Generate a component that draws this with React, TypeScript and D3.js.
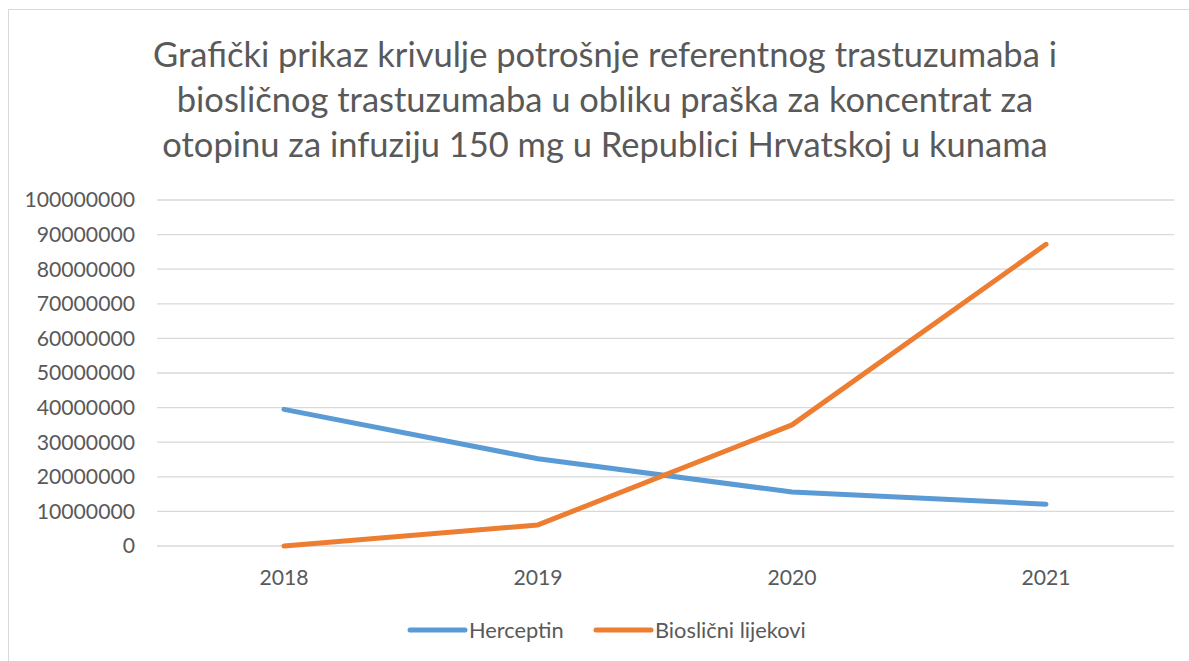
import * as d3 from "d3";
import { useEffect, useRef } from "react";

const years = ["2018", "2019", "2020", "2021"];
const herceptin = [39500000, 25200000, 15600000, 12100000];
const bioslicni = [0, 6100000, 35000000, 87200000];
const yTicks = [0, 10000000, 20000000, 30000000, 40000000, 50000000, 60000000, 70000000, 80000000, 90000000, 100000000];
const titleLines = [
  "Grafički prikaz krivulje potrošnje referentnog trastuzumaba i",
  "biosličnog trastuzumaba u obliku praška za koncentrat za",
  "otopinu za infuziju 150 mg u Republici Hrvatskoj u kunama",
];
const seriesNames = ["Herceptin", "Bioslični lijekovi"];

const App = () => {
  const ref = useRef<SVGSVGElement>(null);

  useEffect(() => {
    const svg = d3.select(ref.current);
    svg.selectAll("*").remove();
    const width = 1189;
    const height = 661;
    const font = "Lato, 'Noto Sans', sans-serif";
    const textColor = "#595959";

    // chart frame
    svg.append("rect")
      .attr("x", 8.5).attr("y", 9.5)
      .attr("width", width).attr("height", height)
      .attr("fill", "white").attr("stroke", "#d9d9d9");

    // title
    svg.append("g").selectAll("text")
      .data(titleLines)
      .join("text")
      .attr("x", 605)
      .attr("y", (d, i) => 67 + i * 45)
      .attr("text-anchor", "middle")
      .attr("font-family", font)
      .attr("font-size", 34.5)
      .attr("fill", textColor)
      .text(d => d);

    const x = d3.scalePoint().domain(years).range([157, 1173]).padding(0.5);
    const y = d3.scaleLinear().domain([0, 100000000]).range([546, 200]);

    // gridlines
    svg.append("g").selectAll("line")
      .data(yTicks)
      .join("line")
      .attr("x1", 157).attr("x2", 1174)
      .attr("y1", d => y(d)).attr("y2", d => y(d))
      .attr("stroke", "#d9d9d9").attr("stroke-width", 1.3);

    // y labels
    svg.append("g").selectAll("text")
      .data(yTicks)
      .join("text")
      .attr("x", 135)
      .attr("y", d => y(d))
      .attr("dy", "0.35em")
      .attr("text-anchor", "end")
      .attr("font-family", font)
      .attr("font-size", 21.2)
      .attr("fill", textColor)
      .text(d => d3.format("d")(d));

    // x labels
    svg.append("g").selectAll("text")
      .data(years)
      .join("text")
      .attr("x", d => x(d)!)
      .attr("y", 585)
      .attr("text-anchor", "middle")
      .attr("font-family", font)
      .attr("font-size", 21.2)
      .attr("fill", textColor)
      .text(d => d);

    const series = [
      { name: seriesNames[0], values: herceptin, color: "#5b9bd5" },
      { name: seriesNames[1], values: bioslicni, color: "#ed7d31" },
    ];

    const line = d3.line<number>()
      .x((d, i) => x(years[i])!)
      .y(d => y(d));

    series.forEach(s => {
      svg.append("path")
        .datum(s.values)
        .attr("fill", "none")
        .attr("stroke", s.color)
        .attr("stroke-width", 5)
        .attr("stroke-linecap", "round")
        .attr("stroke-linejoin", "round")
        .attr("d", line);
    });

    // legend
    const legendX = [410, 596];
    series.forEach((s, i) => {
      const g = svg.append("g").attr("transform", `translate(${legendX[i]}, 630)`);
      g.append("line")
        .attr("x1", 0).attr("x2", 55)
        .attr("stroke", s.color).attr("stroke-width", 5)
        .attr("stroke-linecap", "round");
      g.append("text")
        .attr("x", 59)
        .attr("dy", "0.35em")
        .attr("font-family", font)
        .attr("font-size", 21.8)
        .attr("fill", textColor)
        .text(s.name);
    });
  }, []);

  return (
    <svg ref={ref} width={1189} height={661} style={{ position: "absolute", left: 0, top: 0 }} />
  );
};

export default App;
